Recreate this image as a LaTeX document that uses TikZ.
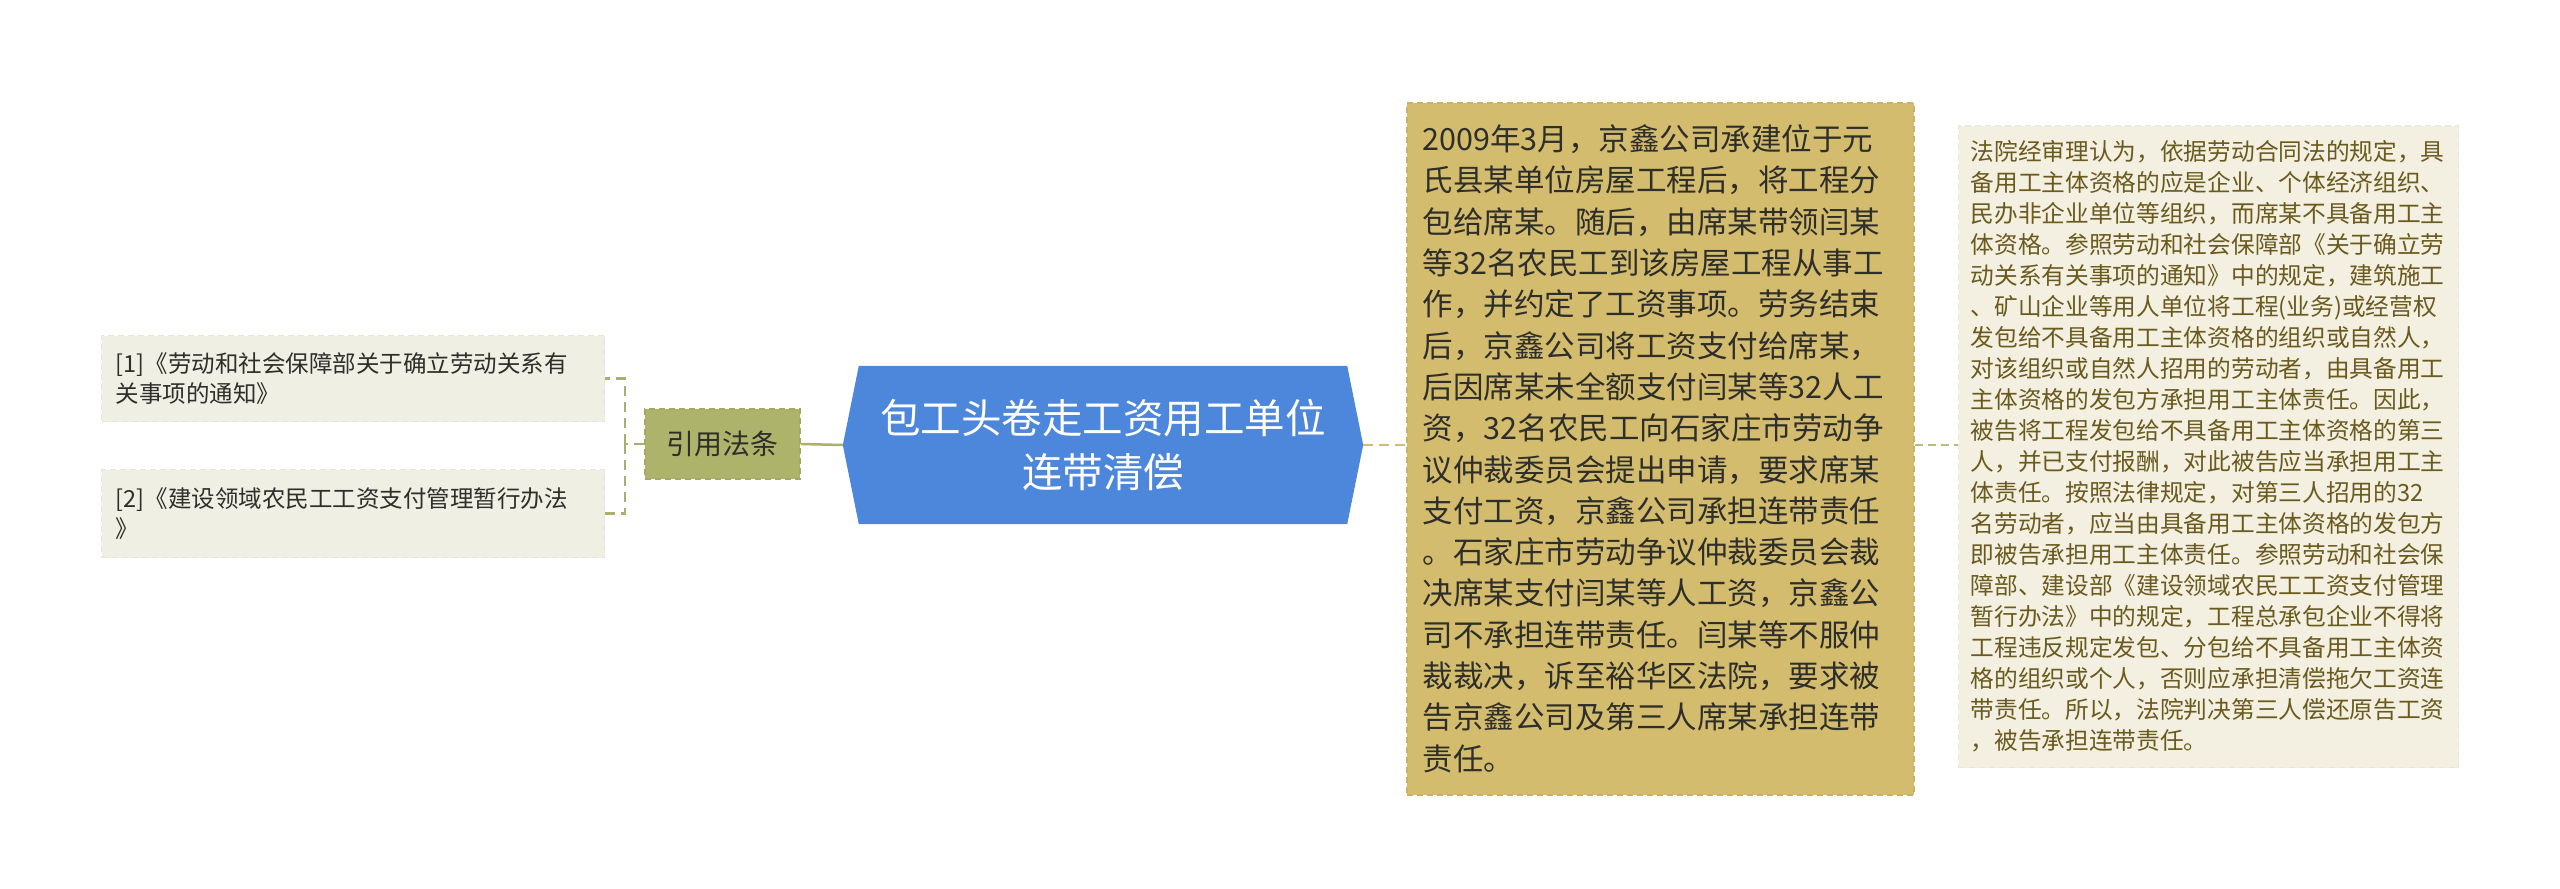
\documentclass[tikz,border=0pt]{standalone}
\usepackage{fontspec}
\setmainfont{Noto Sans CJK SC}
\usetikzlibrary{backgrounds}
\definecolor{mainblue}{HTML}{4D87DB}
\definecolor{tanfill}{HTML}{D3BC6D}
\definecolor{tanline}{HTML}{CBB262}
\definecolor{olivefill}{HTML}{ADB36B}
\definecolor{oliveline}{HTML}{A3AA60}
\definecolor{leaffill}{HTML}{EFEFE4}
\definecolor{leafline}{HTML}{E6E6D8}
\definecolor{notefill}{HTML}{F3F0E1}
\definecolor{noteline}{HTML}{EBE7D3}
\definecolor{notetext}{HTML}{6A5A1E}
\definecolor{conolive}{HTML}{A9B06A}
\definecolor{conlight}{HTML}{B8BE80}
\definecolor{darktext}{HTML}{2E2E2A}
\tikzset{
  leafbox/.style={anchor=north west, fill=leaffill, draw=leafline, line width=1.2pt,
    dash pattern=on 6pt off 4pt, inner xsep=14pt, inner ysep=0pt, align=left,
    text=darktext, font=\fontsize{23.5pt}{30pt}\selectfont},
  lawbox/.style={fill=olivefill, draw=oliveline, line width=1.5pt, dash pattern=on 6pt off 4pt,
    text=darktext, font=\fontsize{28pt}{34pt}\selectfont, minimum width=155pt, minimum height=70pt},
  midbox/.style={anchor=north west, fill=tanfill, draw=tanline, line width=1.5pt,
    dash pattern=on 6pt off 4pt, inner xsep=16pt, inner ysep=0pt, align=left,
    text=darktext, font=\fontsize{30.5pt}{41.3pt}\selectfont},
  notebox/.style={anchor=north west, fill=notefill, draw=noteline, line width=1.2pt,
    dash pattern=on 6pt off 4pt, inner xsep=12pt, inner ysep=0pt, align=left,
    text=notetext, font=\fontsize{23.7pt}{31pt}\selectfont},
  dashconn/.style={line width=2.5pt, dash pattern=on 10pt off 6pt},
}
\begin{document}
\begin{tikzpicture}[x=1pt,y=-1pt]
\useasboundingbox (0,0) rectangle (2560,889);

\node[leafbox, minimum width=503pt, minimum height=86pt, text width=475pt] (r1) at (101,335)
  {[1]《劳动和社会保障部关于确立劳动关系有\\关事项的通知》};
\node[leafbox, minimum width=503pt, minimum height=88pt, text width=475pt] (r2) at (101,469)
  {[2]《建设领域农民工工资支付管理暂行办法\\》};

\node[lawbox] (law) at (722.5,444) {引用法条};

\node[text=white, align=center, font=\fontsize{40.5pt}{54pt}\selectfont,
  minimum width=488pt, minimum height=158pt, inner sep=0pt] (main) at (1103,445)
  {包工头卷走工资用工单位\\连带清偿};
\coordinate (mainL) at ([xshift=-16pt]main.west);
\coordinate (mainR) at ([xshift=16pt]main.east);
\begin{scope}[on background layer]
  \fill[mainblue] (main.north west) -- (main.north east) -- (mainR) -- (main.south east)
    -- (main.south west) -- (mainL) -- cycle;
\end{scope}

\node[midbox, minimum width=507pt, minimum height=692pt, text width=475pt] (mid) at (1406,102)
  {2009年3月，京鑫公司承建位于元\\
   氏县某单位房屋工程后，将工程分\\
   包给席某。随后，由席某带领闫某\\
   等32名农民工到该房屋工程从事工\\
   作，并约定了工资事项。劳务结束\\
   后，京鑫公司将工资支付给席某，\\
   后因席某未全额支付闫某等32人工\\
   资，32名农民工向石家庄市劳动争\\
   议仲裁委员会提出申请，要求席某\\
   支付工资，京鑫公司承担连带责任\\
   。石家庄市劳动争议仲裁委员会裁\\
   决席某支付闫某等人工资，京鑫公\\
   司不承担连带责任。闫某等不服仲\\
   裁裁决，诉至裕华区法院，要求被\\
   告京鑫公司及第三人席某承担连带\\
   责任。};

\node[notebox, minimum width=500pt, minimum height=642pt, text width=476pt] (note) at (1958,125)
  {法院经审理认为，依据劳动合同法的规定，具\\
   备用工主体资格的应是企业、个体经济组织、\\
   民办非企业单位等组织，而席某不具备用工主\\
   体资格。参照劳动和社会保障部《关于确立劳\\
   动关系有关事项的通知》中的规定，建筑施工\\
   、矿山企业等用人单位将工程(业务)或经营权\\
   发包给不具备用工主体资格的组织或自然人，\\
   对该组织或自然人招用的劳动者，由具备用工\\
   主体资格的发包方承担用工主体责任。因此，\\
   被告将工程发包给不具备用工主体资格的第三\\
   人，并已支付报酬，对此被告应当承担用工主\\
   体责任。按照法律规定，对第三人招用的32\\
   名劳动者，应当由具备用工主体资格的发包方\\
   即被告承担用工主体责任。参照劳动和社会保\\
   障部、建设部《建设领域农民工工资支付管理\\
   暂行办法》中的规定，工程总承包企业不得将\\
   工程违反规定发包、分包给不具备用工主体资\\
   格的组织或个人，否则应承担清偿拖欠工资连\\
   带责任。所以，法院判决第三人偿还原告工资\\
   ，被告承担连带责任。};

% connectors
\coordinate (fork) at (625,444);
\draw[conolive, line width=2.5pt] (law.east) -- (mainL);
\draw[conolive, dashconn] (law.west) -- (fork);
\draw[conolive, dashconn] (fork) |- (r1.east);
\draw[conolive, dashconn] (fork) |- (r2.east);
\draw[tanfill, dashconn] (mainR) -- (mainR -| mid.west);
\draw[conlight, line width=2.5pt, dash pattern=on 8pt off 5pt] (mid.east |- mainR) -- (mainR -| note.west);
\end{tikzpicture}
\end{document}
